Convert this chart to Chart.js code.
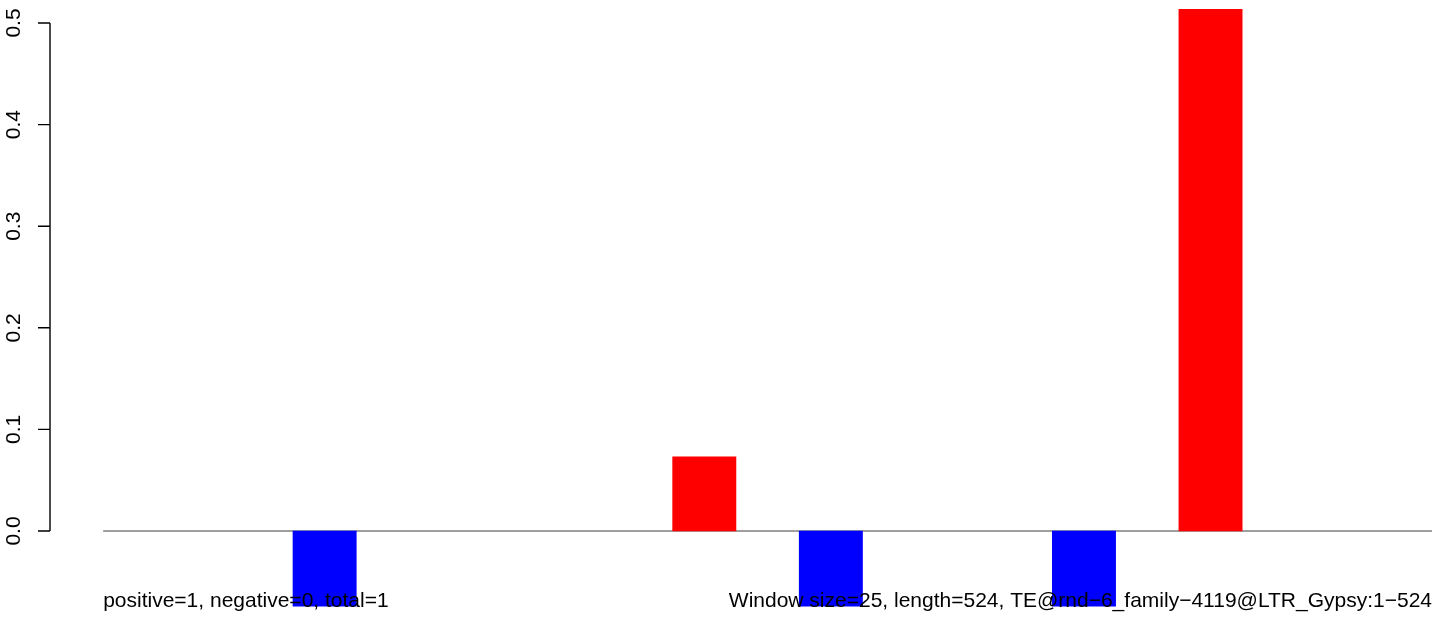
<!DOCTYPE html>
<html>
<head>
<meta charset="utf-8">
<script src="https://cdn.jsdelivr.net/npm/chart.js@4/dist/chart.umd.min.js"></script>
<style>
  html, body { margin: 0; padding: 0; background: #fff; }
  #wrap { width: 1444px; height: 618px; position: relative; }
</style>
</head>
<body>
<div id="wrap"><canvas id="chart"></canvas></div>
<script>
// one value per 25 bp window (21 windows over 524 bp), null = no bar
const windowValues = [
  null, null, null, -0.074, null, null, null, null, null, 0.073,
  null, -0.074, null, null, null, -0.074, null, 0.5138, null, null, null,
];
const yTicks = [0, 0.1, 0.2, 0.3, 0.4, 0.5];
const yRange = [-0.0748, 0.5138];
const windowSpan = [0, 21];
const leftNote = 'positive=1, negative=0, total=1';
const rightNote = 'Window size=25, length=524, TE@rnd\u22126_family\u22124119@LTR_Gypsy:1\u2212524';

const FONT = '21px "Liberation Sans", Arial, Helvetica, sans-serif';

const barPoints = windowValues.map((v, i) => ({ x: i + 0.5, y: v }));
const barColors = windowValues.map((v) => (v !== null && v < 0 ? '#0000ff' : '#ff0000'));

// R-style y axis (only spans the tick range) and the two notes under the plot
const decorations = {
  id: 'decorations',
  afterDraw(chart) {
    const { ctx, scales } = chart;
    const x = scales.x;
    const y = scales.y;
    const axisX = chart.chartArea.left;
    ctx.save();
    ctx.strokeStyle = '#000';
    ctx.lineWidth = 1.4;
    ctx.beginPath();
    ctx.moveTo(axisX, y.getPixelForValue(yTicks[0]));
    ctx.lineTo(axisX, y.getPixelForValue(yTicks[yTicks.length - 1]));
    yTicks.forEach((t) => {
      const py = y.getPixelForValue(t);
      ctx.moveTo(axisX, py);
      ctx.lineTo(axisX - 12, py);
    });
    ctx.stroke();

    ctx.fillStyle = '#000';
    ctx.font = FONT;
    yTicks.forEach((t) => {
      ctx.save();
      ctx.translate(20, y.getPixelForValue(t));
      ctx.rotate(-Math.PI / 2);
      ctx.textAlign = 'center';
      ctx.textBaseline = 'alphabetic';
      ctx.fillText(t.toFixed(1), 0, 0);
      ctx.restore();
    });

    ctx.textBaseline = 'alphabetic';
    ctx.textAlign = 'left';
    ctx.fillText(leftNote, x.getPixelForValue(windowSpan[0]), 607);
    ctx.textAlign = 'right';
    ctx.fillText(rightNote, x.getPixelForValue(windowSpan[1]), 607);
    ctx.restore();
  },
};

new Chart(document.getElementById('chart'), {
  type: 'bar',
  data: {
    datasets: [
      {
        type: 'line',
        data: windowSpan.map((w) => ({ x: w, y: 0 })),
        borderColor: '#7f7f7f',
        borderWidth: 1.3,
        pointRadius: 0,
        order: 2,
      },
      {
        type: 'bar',
        data: barPoints,
        backgroundColor: barColors,
        borderWidth: 0,
        categoryPercentage: 1,
        barPercentage: 1,
        order: 1,
      },
    ],
  },
  options: {
    responsive: true,
    maintainAspectRatio: false,
    animation: false,
    layout: { padding: { left: 50, right: 12, top: 9, bottom: 11 } },
    plugins: { legend: { display: false }, tooltip: { enabled: false } },
    scales: {
      x: {
        type: 'linear',
        display: false,
        offset: false,
        bounds: 'ticks',
        min: -0.84,
        max: windowSpan[1],
      },
      y: {
        display: false,
        min: yRange[0],
        max: yRange[1],
      },
    },
  },
  plugins: [decorations],
});
</script>
</body>
</html>
